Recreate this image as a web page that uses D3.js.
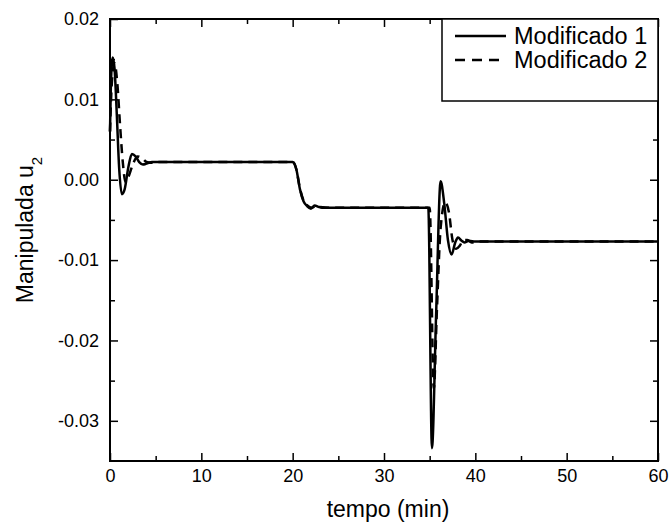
<!DOCTYPE html>
<html lang="en">
	<head>
		<meta charset="utf-8">
		<script type="text/javascript" src="https://d3js.org/d3.v7.min.js"></script>
		<style type="text/css">
			body { margin: 0; background: #fff; }
			text { font-family: "Liberation Sans", Arial, sans-serif; fill: #000; }
		</style>
	</head>
	<body>
		<script type="text/javascript">
		// series: [tempo (min), u2]
		var modificado1 = [[0,0.006],[0.1,0.012],[0.3,0.0152],[0.5,0.0138],[0.75,0.008],[1.0,0.0015],[1.3,-0.0018],[1.6,-0.0012],[2.0,0.0015],[2.4,0.0032],[2.8,0.0029],[3.2,0.0022],[3.6,0.0019],[4.0,0.0020],[4.6,0.0022],
			[20.0,0.0022],[20.4,0.0013],[20.8,-0.0012],[21.2,-0.0027],[21.6,-0.0033],[22.0,-0.0036],[22.4,-0.0032],[22.9,-0.0034],[23.5,-0.0035],
			[34.85,-0.0035],[35.25,-0.0334],[35.7,-0.017],[36.2,-0.0002],[36.6,-0.003],[37.0,-0.0075],[37.4,-0.0093],[37.8,-0.0078],[38.1,-0.0072],[38.5,-0.0076],[38.8,-0.0078],[39.3,-0.0076],[40,-0.0077],[60,-0.0077]];
		var modificado2 = [[0,0.006],[0.2,0.012],[0.5,0.0145],[0.8,0.012],[1.1,0.0068],[1.4,0.0022],[1.7,-0.0003],[2.0,0.0003],[2.5,0.0019],[3.0,0.0029],[3.5,0.0027],[4.0,0.0022],[4.5,0.0021],[5.0,0.0022],
			[20.0,0.0022],[20.4,0.0013],[20.8,-0.0011],[21.2,-0.0026],[21.6,-0.0032],[22.1,-0.0035],[22.5,-0.0033],[23.0,-0.0034],[24,-0.0035],
			[35.0,-0.0035],[35.45,-0.026],[35.8,-0.016],[36.2,-0.006],[36.7,-0.0028],[37.1,-0.004],[37.5,-0.0075],[37.9,-0.0086],[38.3,-0.0082],[38.7,-0.0075],[39.1,-0.0075],[39.6,-0.0078],[40.2,-0.0077],[60,-0.0077]];

		var xTicks = [0,10,20,30,40,50,60];
		var xMinor = [5,15,25,35,45,55];
		var yTicks = [0.02,0.01,0,-0.01,-0.02,-0.03];
		var yMinor = [0.015,0.005,-0.005,-0.015,-0.025];
		var seriesNames = ["Modificado 1","Modificado 2"];

		var w = 672, h = 528;
		var mLeft = 110, mRight = 658, mTop = 19, mBottom = 461;

		var x = d3.scaleLinear().domain([0,60]).range([mLeft,mRight]);
		var y = d3.scaleLinear().domain([-0.035,0.02]).range([mBottom,mTop]);

		var svg = d3.select("body").append("svg")
			.attr("width", w)
			.attr("height", h);

		var line = d3.line()
			.x(function(d){ return x(d[0]); })
			.y(function(d){ return y(d[1]); })
			.curve(d3.curveMonotoneX);

		svg.append("path").datum(modificado2)
			.attr("d", line).attr("fill","none")
			.attr("stroke","#000").attr("stroke-width",2.5)
			.attr("stroke-dasharray","9,6");
		svg.append("path").datum(modificado1)
			.attr("d", line).attr("fill","none")
			.attr("stroke","#000").attr("stroke-width",2.5);

		//axes, ticks pointing inward
		function styleAxis(g){
			g.select(".domain").remove();
			g.selectAll(".tick line").attr("stroke","#000").attr("stroke-width",1.5);
			g.selectAll(".tick text").style("font-size","18px");
		}
		var fmt = function(d){ return d.toFixed(2); };

		svg.append("g").attr("transform","translate(0,"+mBottom+")")
			.call(d3.axisBottom(x).tickValues(xTicks).tickSize(-8).tickPadding(8).tickFormat(d3.format("d")))
			.call(styleAxis);
		svg.append("g").attr("transform","translate(0,"+mBottom+")")
			.call(d3.axisBottom(x).tickValues(xMinor).tickSize(-5).tickFormat(""))
			.call(styleAxis);
		svg.append("g").attr("transform","translate(0,"+mTop+")")
			.call(d3.axisTop(x).tickValues(xTicks).tickSize(-8).tickFormat(""))
			.call(styleAxis);
		svg.append("g").attr("transform","translate(0,"+mTop+")")
			.call(d3.axisTop(x).tickValues(xMinor).tickSize(-5).tickFormat(""))
			.call(styleAxis);

		svg.append("g").attr("transform","translate("+mLeft+",0)")
			.call(d3.axisLeft(y).tickValues(yTicks).tickSize(-8).tickPadding(11).tickFormat(fmt))
			.call(styleAxis);
		svg.append("g").attr("transform","translate("+mLeft+",0)")
			.call(d3.axisLeft(y).tickValues(yMinor).tickSize(-5).tickFormat(""))
			.call(styleAxis);
		svg.append("g").attr("transform","translate("+mRight+",0)")
			.call(d3.axisRight(y).tickValues(yTicks).tickSize(-8).tickFormat(""))
			.call(styleAxis);
		svg.append("g").attr("transform","translate("+mRight+",0)")
			.call(d3.axisRight(y).tickValues(yMinor).tickSize(-5).tickFormat(""))
			.call(styleAxis);

		svg.append("rect")
			.attr("x", mLeft).attr("y", mTop)
			.attr("width", mRight-mLeft).attr("height", mBottom-mTop)
			.attr("fill","none").attr("stroke","#000").attr("stroke-width",2);

		//axis titles
		svg.append("text")
			.attr("x", 388).attr("y", 517)
			.attr("text-anchor","middle")
			.style("font-size","23px")
			.text("tempo (min)");

		var yl = svg.append("text")
			.attr("transform","translate(33,230) rotate(-90)")
			.attr("text-anchor","middle")
			.style("font-size","23px");
		yl.append("tspan").text("Manipulada u");
		yl.append("tspan").attr("baseline-shift","sub").style("font-size","15px").text("2");

		//legend
		var lg = svg.append("g");
		lg.append("rect")
			.attr("x", 442).attr("y", mTop)
			.attr("width", mRight-442).attr("height", 82)
			.attr("fill","#fff").attr("stroke","#000").attr("stroke-width",1.5);
		seriesNames.forEach(function(name, i){
			var yy = 36 + i*24;
			lg.append("line")
				.attr("x1", 455).attr("x2", 506).attr("y1", yy).attr("y2", yy)
				.attr("stroke","#000").attr("stroke-width",2.5)
				.attr("stroke-dasharray", i === 1 ? "10,7" : null);
			lg.append("text")
				.attr("x", 514).attr("y", yy + 8)
				.style("font-size","23.5px")
				.text(name);
		});
		</script>
	</body>
</html>
